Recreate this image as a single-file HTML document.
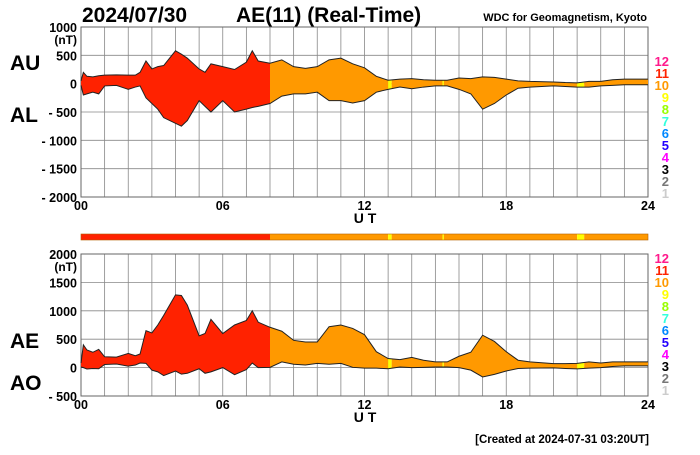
<!DOCTYPE html>
<html><head><meta charset="utf-8"><style>
body{margin:0;background:#fff;width:700px;height:450px;overflow:hidden}
svg{font-family:"Liberation Sans",Arial,sans-serif;font-weight:bold}
</style></head><body>
<svg id="c" width="700" height="450"></svg>
<script>
const hours=[0,0.1,0.25,0.5,0.75,1,1.5,2,2.3,2.5,2.75,3,3.25,3.5,4,4.25,4.5,5,5.25,5.5,6,6.5,7,7.25,7.5,8,8.5,9,9.5,10,10.5,11,11.5,12,12.5,13,13.5,14,14.5,15,15.5,16,16.5,17,17.5,18,18.5,19,20,20.5,21,21.5,22,22.5,23,24];
const au=[50,200,130,120,140,150,155,150,150,200,400,260,300,320,580,520,450,260,200,350,300,250,380,580,400,360,420,300,270,300,420,450,350,280,130,60,80,90,70,60,60,100,90,120,110,80,50,40,30,20,15,40,40,70,80,80];
const al=[-30,-200,-180,-150,-180,-40,-30,-100,-60,-40,-250,-350,-450,-600,-700,-750,-650,-300,-400,-500,-300,-500,-450,-420,-400,-350,-220,-180,-180,-150,-300,-300,-340,-300,-150,-100,-60,-90,-60,-40,-40,-100,-180,-450,-350,-200,-80,-60,-40,-50,-60,-60,-40,-30,-20,-20];
const segStart=[0,8,13.0,13.15,15.3,15.36,21.0,21.3];
const segEnd=[8,13.0,13.15,15.3,15.36,21.0,21.3,24];
const segColor=["#ff2200","#ff9900","#ffff00","#ff9900","#ffff00","#ff9900","#ffff00","#ff9900"];
const topTicks=[1000,500,0,-500,-1000,-1500,-2000];
const botTicks=[2000,1500,1000,500,0,-500];
const xTicks=["00","06","12","18","24"];
const levels=["12","11","10","9","8","7","6","5","4","3","2","1"];
const levelColors=["#ff1a8c","#ff2200","#ff9900","#ffff00","#99ff00","#33ffdd","#0088ff","#2200ff","#ff00ff","#000000","#777777","#cccccc"];

const NS="http://www.w3.org/2000/svg",svg=document.getElementById('c');
function mk(t,a,p){const e=document.createElementNS(NS,t);for(const k in a)e.setAttribute(k,a[k]);(p||svg).appendChild(e);return e;}
const X0=81,X1=648;const x=h=>X0+(X1-X0)*h/24;
function txt(s,a){const e=mk('text',a);e.textContent=s;return e;}

function panel(id,top,bottom,ymax,ymin,ticks,up,lo,lab1,lab2,lab1y,lab2y,legY){
  const y=v=>top+(ymax-v)*(bottom-top)/(ymax-ymin);
  const g=mk('g',{});
  
  
  for(let i=0;i<=24;i++)mk('line',{x1:x(i),x2:x(i),y1:top,y2:bottom,stroke:'#888','stroke-width':0.8},g);
  for(let v=ymin;v<=ymax;v+=500)mk('line',{x1:X0,x2:X1,y1:y(v),y2:y(v),stroke:'#888','stroke-width':0.8},g);
  mk('rect',{x:X0,y:top,width:X1-X0,height:bottom-top,fill:'none',stroke:'#666','stroke-width':1},g);
  let d='M'+hours.map((h,i)=>x(h)+','+y(up[i])).join('L');
  for(let i=hours.length-1;i>=0;i--)d+='L'+x(hours[i])+','+y(lo[i]);d+='Z';
  segStart.forEach((s,i)=>{
    const cp=mk('clipPath',{id:id+'cp'+i},g);
    mk('rect',{x:x(s),y:top,width:x(segEnd[i])-x(s),height:bottom-top},cp);
    const p=mk('path',{d:d,fill:segColor[i],'clip-path':'url(#'+id+'cp'+i+')'},g);
    
    
  });
  const l1=mk('path',{d:'M'+hours.map((h,i)=>x(h)+','+y(up[i])).join('L'),fill:'none',stroke:'#222','stroke-width':1},g);
  
  
  const l2=mk('path',{d:'M'+hours.map((h,i)=>x(h)+','+y(lo[i])).join('L'),fill:'none',stroke:'#222','stroke-width':1},g);
  
  
  ticks.forEach(v=>{const t=txt((v<0?'- '+(-v):String(v)),{x:77,y:y(v)+5,'font-size':12.5,'text-anchor':'end'});
    });
  txt('(nT)',{x:77,y:y(ymax)+17,'font-size':12,'text-anchor':'end'});
  xTicks.forEach((s,i)=>{const t=txt(s,{x:x(i*6),y:bottom+13,'font-size':12.5,'text-anchor':'middle'});
    });
  const ut=txt('U T',{x:365,y:bottom+26,'font-size':14,'text-anchor':'middle'});
  
  const a=txt(lab1,{x:10,y:lab1y,'font-size':21});
  const b=txt(lab2,{x:10,y:lab2y,'font-size':21});
  levels.forEach((s,i)=>{const t=txt(s,{x:669,y:legY+i*12,'font-size':13,'text-anchor':'end',fill:levelColors[i]});
    });
}
panel('au-al',27,197,1000,-2000,topTicks,au,al,'AU','AL',70,122,66);
const ae=au.map((v,i)=>v-al[i]);
const ao=au.map((v,i)=>(v+al[i])/2);
panel('ae-ao',254,396,2000,-500,botTicks,ae,ao,'AE','AO',348,390,263);

segStart.forEach((s,i)=>{const r=mk('rect',{x:x(s),y:234,width:x(segEnd[i])-x(s),height:6,fill:segColor[i]});
  });
mk('rect',{x:X0,y:234,width:X1-X0,height:6,fill:'none',stroke:'#b56000','stroke-width':0.6});

let t=txt('2024/07/30',{x:82,y:22,'font-size':21});
t=txt('AE(11) (Real-Time)',{x:236,y:22,'font-size':21});
t=txt('WDC for Geomagnetism, Kyoto',{x:647,y:21,'font-size':11,'text-anchor':'end'});
t=txt('[Created at 2024-07-31 03:20UT]',{x:649,y:443,'font-size':11.5,'text-anchor':'end'});
</script>
</body></html>
